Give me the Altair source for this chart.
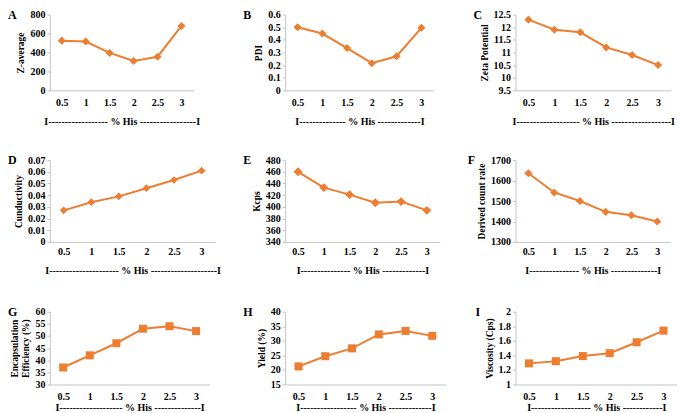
import altair as alt
import pandas as pd

his = [0.5, 1, 1.5, 2, 2.5, 3]

z_average = [525, 515, 395, 310, 355, 680]
pdi = [0.50, 0.45, 0.335, 0.215, 0.27, 0.495]
zeta = [12.3, 11.9, 11.8, 11.2, 10.9, 10.5]
conductivity = [0.027, 0.034, 0.039, 0.046, 0.053, 0.061]
kcps = [460, 433, 421, 407, 409, 394]
count_rate = [1636, 1542, 1500, 1447, 1430, 1400]
encapsulation = [37, 42, 47, 53, 54, 52]
yield_pct = [21.2, 24.7, 27.4, 32.2, 33.4, 31.7]
viscosity = [1.29, 1.32, 1.39, 1.43, 1.58, 1.74]

ticks_a = [0, 200, 400, 600, 800]
ticks_b = [0, 0.1, 0.2, 0.3, 0.4, 0.5, 0.6]
ticks_c = [9.5, 10, 10.5, 11, 11.5, 12, 12.5]
ticks_d = [0, 0.01, 0.02, 0.03, 0.04, 0.05, 0.06, 0.07]
ticks_e = [340, 360, 380, 400, 420, 440, 460, 480]
ticks_f = [1300, 1400, 1500, 1600, 1700]
ticks_g = [30, 35, 40, 45, 50, 55, 60]
ticks_h = [15, 20, 25, 30, 35, 40]
ticks_i = [1, 1.2, 1.4, 1.6, 1.8, 2]

FONT = "Liberation Serif"
ORANGE = "#ED7D31"
AXIS_GRAY = "#c4c4c4"
LABEL_EXPR = "'' + datum.value"


def dash_title(left, right):
    return "I" + "-" * left + " % His " + "-" * right + "I"


def panel(letter, values, ytitle, ticks, shape, width, height, dashes,
          label_pad, title_pad, msize, letter_dx=-42):
    df = pd.DataFrame({"his": his, "v": values})
    x = alt.X("his:Q",
              scale=alt.Scale(domain=[0.25, 3.25], nice=False, zero=False),
              axis=alt.Axis(values=his, labelExpr=LABEL_EXPR, ticks=False,
                            grid=False, domainColor=AXIS_GRAY,
                            labelPadding=label_pad, titlePadding=title_pad,
                            labelFontSize=10, titleFontSize=10,
                            labelFont=FONT, titleFont=FONT,
                            labelFontWeight="bold", titleFontWeight="bold",
                            labelColor="black", titleColor="black",
                            title=dash_title(*dashes)))
    y = alt.Y("v:Q",
              scale=alt.Scale(domain=[ticks[0], ticks[-1]], nice=False,
                              zero=False),
              axis=alt.Axis(values=ticks, labelExpr=LABEL_EXPR, grid=False,
                            tickSize=3, tickColor=AXIS_GRAY,
                            domainColor=AXIS_GRAY, labelPadding=2,
                            labelFontSize=10, titleFontSize=9.5,
                            labelFont=FONT, titleFont=FONT,
                            labelFontWeight="bold", titleFontWeight="bold",
                            labelColor="black", titleColor="black",
                            title=ytitle))
    base = alt.Chart(df).encode(x=x, y=y)
    line = base.mark_line(color=ORANGE, strokeWidth=2)
    pts = base.mark_point(shape=shape, filled=True, color=ORANGE,
                          opacity=1, size=msize)
    lab = alt.Chart(pd.DataFrame({"letter": [letter]})).mark_text(
        align="left", baseline="alphabetic", font=FONT, fontSize=12,
        fontWeight="bold", color="black"
    ).encode(x=alt.value(letter_dx), y=alt.value(4), text="letter:N")
    return alt.layer(line, pts, lab).properties(width=width, height=height)


panels = [
    panel("A", z_average, "Z-average", ticks_a, "diamond", 144, 76, (18, 17), 7, 9, 65),
    panel("B", pdi, "PDI", ticks_b, "diamond", 149, 76, (14, 13), 7, 9, 65),
    panel("C", zeta, "Zeta Potential", ticks_c, "diamond", 156, 76, (19, 18), 7, 9, 65),
    panel("D", conductivity, "Cunductivity", ticks_d, "diamond", 166, 82, (21, 20), 5, 9, 60),
    panel("E", kcps, "Kcps", ticks_e, "diamond", 155, 82, (15, 13), 5, 9, 80),
    panel("F", count_rate, "Derived count rate", ticks_f, "diamond", 155, 82, (15, 14), 5, 9, 65, -48),
    panel("G", encapsulation, ["Encapsulation", "Efficiency (%)"], ticks_g, "square", 160, 73, (19, 14), 7, 1, 65),
    panel("H", yield_pct, "Yield (%)", ticks_h, "square", 161, 73, (17, 13), 7, 1, 65),
    panel("I", viscosity, "Viscosity (Cps)", ticks_i, "square", 162, 73, (18, 12), 7, 1, 65, -40),
]

chart = alt.concat(
    *panels, columns=3, spacing={"row": 70, "column": 70},
    bounds="flush", align="each", padding=0, background="white"
).configure_view(stroke=None)

chart.save("out.html", embed_options={"renderer": "svg", "actions": False})
